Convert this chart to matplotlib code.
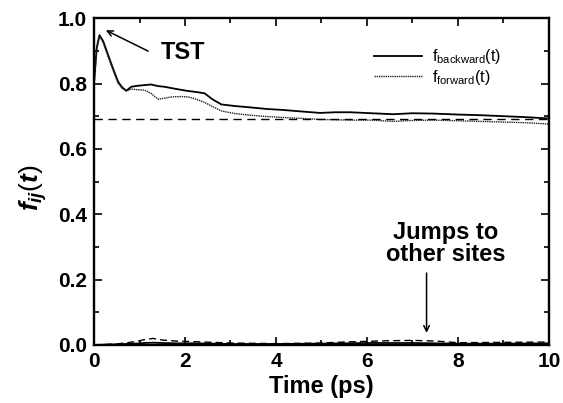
#!/usr/bin/env python3
"""Recreation of the f_ij(t) transmission coefficient plot."""
import matplotlib

matplotlib.use("Agg")
import matplotlib.pyplot as plt
from matplotlib.ticker import FormatStrFormatter, MultipleLocator

# Main curves
t_main = [0, 0.06, 0.12, 0.2, 0.31, 0.42, 0.53, 0.62, 0.71, 0.82, 0.95, 1.11,
          1.25, 1.41, 1.55, 1.70, 1.9, 2.07, 2.25, 2.43, 2.6, 2.8, 3.1, 3.43,
          3.8, 4.16, 4.6, 4.97, 5.3, 5.63, 6.1, 6.58, 7.0, 7.45, 8.0, 8.5,
          9.0, 9.5, 10]
f_backward = [0.80, 0.91, 0.948, 0.93, 0.887, 0.845, 0.805, 0.788, 0.778,
              0.790, 0.793, 0.795, 0.797, 0.792, 0.790, 0.786, 0.781, 0.777,
              0.774, 0.770, 0.752, 0.736, 0.731, 0.727, 0.722, 0.719, 0.714,
              0.710, 0.712, 0.712, 0.709, 0.706, 0.709, 0.708, 0.705, 0.703,
              0.700, 0.697, 0.693]
f_forward = [0.80, 0.905, 0.945, 0.925, 0.882, 0.84, 0.80, 0.785, 0.777,
             0.783, 0.781, 0.780, 0.770, 0.752, 0.755, 0.759, 0.760, 0.759,
             0.752, 0.742, 0.73, 0.716, 0.708, 0.703, 0.699, 0.696, 0.693,
             0.690, 0.689, 0.688, 0.688, 0.684, 0.687, 0.688, 0.686, 0.684,
             0.682, 0.680, 0.676]

# Long-time reference level
f_plateau = 0.69

# Jumps to other sites (near zero)
t_other = [0, 0.5, 0.9, 1.1, 1.3, 1.5, 1.8, 2.2, 3, 4, 5, 5.5, 6, 6.5, 7,
           7.5, 8, 9, 10]
other_dashed = [0, 0.003, 0.01, 0.016, 0.02, 0.015, 0.012, 0.01, 0.006,
                0.004, 0.006, 0.009, 0.011, 0.013, 0.014, 0.012, 0.007,
                0.008, 0.009]
other_solid = [0, 0.002, 0.004, 0.006, 0.007, 0.006, 0.005, 0.005, 0.003,
               0.003, 0.004, 0.005, 0.006, 0.006, 0.006, 0.005, 0.004,
               0.004, 0.005]


def main() -> None:
    plt.rcParams.update(
        {
            "font.family": "Liberation Sans",
            "mathtext.fontset": "custom",
            "mathtext.rm": "Liberation Sans",
            "mathtext.it": "Liberation Sans:italic:bold",
            "mathtext.bf": "Liberation Sans:bold",
        }
    )

    fig = plt.figure(figsize=(5.63, 4.03), dpi=100)
    ax = fig.add_axes([0.167, 0.144, 0.808, 0.811])

    ax.plot(t_main, f_backward, color="black", lw=1.3,
            label=r"f$_{\mathrm{backward}}$(t)")
    ax.plot(t_main, f_forward, color="#222222", lw=1.0,
            linestyle=(0, (1, 0.6)), label=r"f$_{\mathrm{forward}}$(t)")
    ax.axhline(f_plateau, color="black", lw=1.0, linestyle=(0, (6, 4)))

    ax.plot(t_other, other_dashed, color="black", lw=1.0, linestyle=(0, (5, 3)))
    ax.plot(t_other, other_solid, color="black", lw=1.3)

    ax.set_xlim(0, 10)
    ax.set_ylim(0, 1.0)
    ax.xaxis.set_major_locator(MultipleLocator(2))
    ax.xaxis.set_minor_locator(MultipleLocator(1))
    ax.yaxis.set_major_locator(MultipleLocator(0.2))
    ax.yaxis.set_minor_locator(MultipleLocator(0.1))
    ax.yaxis.set_major_formatter(FormatStrFormatter("%.1f"))
    ax.tick_params(which="both", direction="in", top=True, right=True,
                   width=1.2)
    ax.tick_params(which="major", length=6, labelsize=15, pad=5)
    ax.tick_params(which="minor", length=3.5)
    for lab in ax.get_xticklabels() + ax.get_yticklabels():
        lab.set_fontweight("bold")
    for sp in ax.spines.values():
        sp.set_linewidth(1.7)

    ax.set_xlabel("Time (ps)", fontsize=17, fontweight="bold", labelpad=3)
    ax.set_ylabel(r"$f_{ij}(t)$", fontsize=19)
    ax.yaxis.set_label_coords(-0.10, 0.48)

    ax.legend(loc="upper left", bbox_to_anchor=(0.598, 0.935), frameon=False,
              fontsize=11.5, handlelength=3.0, handletextpad=0.6,
              labelspacing=0.1, borderpad=0)

    ax.text(1.95, 0.894, "TST", fontsize=17, fontweight="bold",
            ha="center", va="center")
    ax.annotate("", xy=(0.26, 0.963), xytext=(1.19, 0.899),
                arrowprops=dict(arrowstyle="->", color="black", lw=1.1,
                                shrinkA=0, shrinkB=0))
    ax.text(7.74, 0.31, "Jumps to\nother sites", fontsize=17,
            fontweight="bold", ha="center", va="center", linespacing=0.95)
    ax.annotate("", xy=(7.31, 0.037), xytext=(7.31, 0.22),
                arrowprops=dict(arrowstyle="->", color="black", lw=1.1,
                                shrinkA=0, shrinkB=0))

    fig.savefig("out.png", dpi=100)


if __name__ == "__main__":
    main()
